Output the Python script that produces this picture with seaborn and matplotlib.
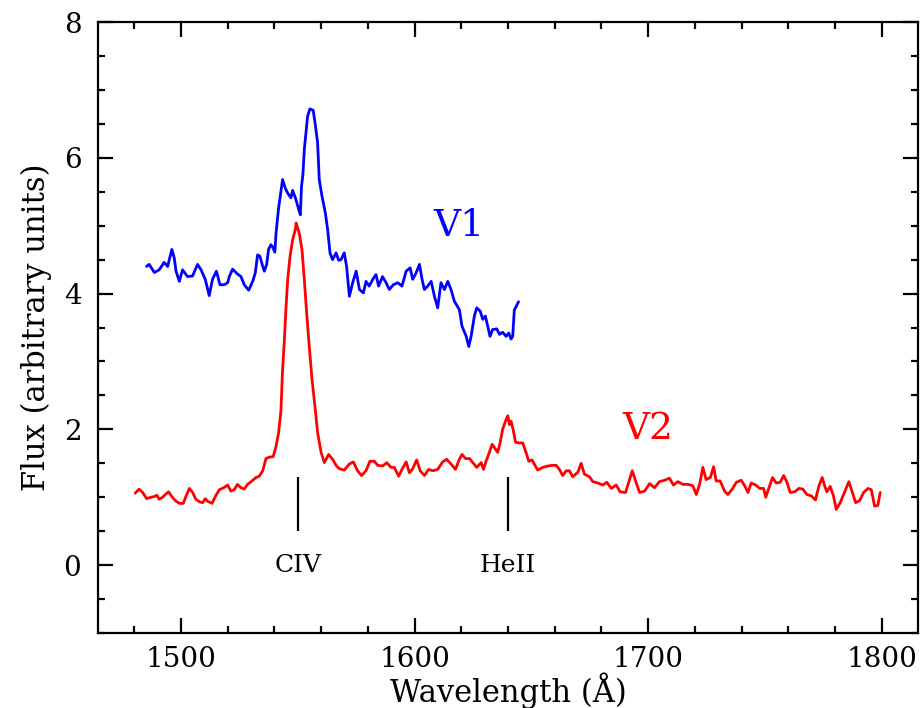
import numpy as np
import pandas as pd
import matplotlib
matplotlib.use("Agg")
import matplotlib.pyplot as plt
from matplotlib.ticker import MultipleLocator
import seaborn as sns

#### DATA

# V1 spectrum (blue)
v1_wave = [1485.3, 1486.4, 1488.6, 1490.7, 1492.8, 1494.3, 1496.1, 1497.1, 1497.9, 1499.3,
           1500.7, 1502.8, 1505.0, 1507.1, 1508.6, 1510.4, 1512.1, 1513.5, 1515.2, 1516.7,
           1518.5, 1520.0, 1520.7, 1522.1, 1523.8, 1525.7, 1527.1, 1529.0, 1530.7, 1531.8,
           1532.8, 1533.8, 1535.0, 1535.7, 1536.7, 1537.5, 1538.5, 1539.2, 1540.2, 1540.7,
           1541.8, 1542.5, 1543.5, 1544.7, 1545.7, 1547.1, 1547.8, 1549.0, 1550.4, 1551.1,
           1551.6, 1552.2, 1552.8, 1554.2, 1555.2, 1556.6, 1557.5, 1558.5, 1559.2, 1560.4,
           1561.8, 1562.8, 1563.8, 1564.9, 1566.4, 1567.5, 1568.5, 1569.9, 1570.9, 1572.1,
           1573.5, 1575.0, 1576.4, 1578.1, 1579.2, 1580.6, 1582.1, 1583.5, 1584.6, 1586.3,
           1587.8, 1589.2, 1590.9, 1592.8, 1594.6, 1596.4, 1598.1, 1599.2, 1600.6, 1602.1,
           1603.2, 1604.2, 1605.6, 1607.1, 1608.5, 1609.9, 1611.3, 1612.8, 1614.2, 1615.6,
           1617.0, 1619.2, 1620.3, 1622.1, 1623.2, 1624.2, 1625.6, 1626.6, 1628.1, 1629.2,
           1630.3, 1631.3, 1632.3, 1633.4, 1635.2, 1636.3, 1637.7, 1639.2, 1640.3, 1641.3,
           1642.0, 1642.7, 1643.5, 1644.5]
v1_flux = [4.40, 4.43, 4.31, 4.35, 4.46, 4.40, 4.65, 4.53, 4.33, 4.18,
           4.35, 4.25, 4.26, 4.43, 4.35, 4.21, 3.97, 4.21, 4.33, 4.13,
           4.13, 4.16, 4.25, 4.36, 4.30, 4.25, 4.13, 4.05, 4.18, 4.30,
           4.57, 4.55, 4.40, 4.33, 4.43, 4.65, 4.72, 4.69, 4.61, 4.89,
           5.26, 5.43, 5.68, 5.55, 5.48, 5.41, 5.52, 5.41, 5.24, 5.16,
           5.58, 5.75, 6.12, 6.61, 6.72, 6.70, 6.49, 6.22, 5.68, 5.43,
           5.19, 4.94, 4.60, 4.50, 4.60, 4.49, 4.50, 4.60, 4.40, 3.96,
           4.16, 4.33, 4.06, 4.01, 4.18, 4.11, 4.21, 4.28, 4.11, 4.25,
           4.16, 4.06, 4.13, 4.16, 4.11, 4.33, 4.38, 4.21, 4.30, 4.43,
           4.21, 4.06, 4.11, 4.18, 3.96, 3.79, 4.16, 4.06, 4.18, 4.06,
           3.89, 3.76, 3.52, 3.37, 3.22, 3.37, 3.67, 3.79, 3.74, 3.62,
           3.67, 3.52, 3.37, 3.47, 3.48, 3.40, 3.43, 3.37, 3.42, 3.33,
           3.37, 3.76, 3.81, 3.88]

# V2 spectrum (red)
v2_wave = [1480.4, 1482.1, 1483.6, 1485.3, 1487.2, 1488.6, 1489.7, 1490.7, 1492.1, 1493.3,
           1494.7, 1496.1, 1497.6, 1499.3, 1501.0, 1502.1, 1503.6, 1505.0, 1506.4, 1508.1,
           1509.3, 1510.4, 1511.4, 1513.3, 1514.7, 1516.4, 1518.3, 1520.0, 1521.4, 1522.8,
           1524.2, 1525.7, 1527.1, 1528.5, 1530.4, 1532.1, 1533.5, 1535.0, 1536.4, 1537.8,
           1539.5, 1540.7, 1541.8, 1542.8, 1543.5, 1544.2, 1545.0, 1545.7, 1546.7, 1547.8,
           1549.0, 1549.3, 1550.7, 1551.8, 1552.8, 1553.8, 1554.9, 1556.1, 1557.5, 1558.5,
           1560.0, 1561.4, 1563.2, 1564.9, 1566.6, 1567.8, 1569.9, 1572.1, 1573.8, 1575.6,
           1577.3, 1579.2, 1580.9, 1582.8, 1584.2, 1586.3, 1588.1, 1589.9, 1591.3, 1593.2,
           1594.6, 1596.4, 1597.8, 1599.2, 1600.9, 1602.4, 1604.2, 1606.0, 1607.8, 1609.9,
           1612.0, 1613.7, 1615.6, 1617.5, 1619.2, 1620.3, 1621.8, 1623.5, 1625.2, 1626.6,
           1628.5, 1629.5, 1630.6, 1632.0, 1633.2, 1634.2, 1635.6, 1636.6, 1637.7, 1638.9,
           1639.9, 1640.6, 1641.3, 1642.3, 1643.2, 1644.9, 1646.3, 1647.7, 1648.9, 1650.3,
           1651.7, 1652.7, 1654.9, 1657.0, 1659.1, 1660.6, 1662.0, 1663.4, 1664.9, 1666.3,
           1667.7, 1669.9, 1671.3, 1672.7, 1674.9, 1676.3, 1678.4, 1680.6, 1682.3, 1684.2,
           1686.3, 1688.0, 1690.3, 1692.0, 1693.2, 1694.6, 1696.3, 1698.4, 1700.6, 1702.7,
           1704.8, 1707.0, 1709.1, 1710.8, 1712.7, 1714.8, 1717.0, 1719.1, 1720.6, 1722.0,
           1723.4, 1724.8, 1726.6, 1728.0, 1729.1, 1730.8, 1732.7, 1734.1, 1736.0, 1737.7,
           1739.8, 1741.3, 1742.7, 1744.1, 1746.0, 1747.7, 1749.4, 1750.3, 1751.7, 1753.2,
           1754.8, 1756.5, 1758.0, 1759.4, 1760.8, 1762.7, 1764.5, 1766.2, 1767.9, 1769.8,
           1771.6, 1773.1, 1774.5, 1775.5, 1776.5, 1777.9, 1779.3, 1780.5, 1782.2, 1784.0,
           1785.9, 1787.3, 1788.8, 1790.5, 1792.2, 1794.1, 1795.5, 1796.9, 1798.3, 1799.3]
v2_flux = [1.06, 1.12, 1.07, 0.98, 1.00, 1.01, 1.03, 0.97, 1.00, 1.04,
           1.08, 1.01, 0.95, 0.91, 0.91, 1.01, 1.13, 1.07, 0.97, 0.93,
           0.92, 0.98, 0.94, 0.91, 1.01, 1.11, 1.14, 1.18, 1.09, 1.11,
           1.19, 1.14, 1.12, 1.19, 1.24, 1.29, 1.31, 1.39, 1.57, 1.59,
           1.60, 1.75, 1.95, 2.27, 2.88, 3.27, 3.81, 4.21, 4.55, 4.79,
           4.95, 5.04, 4.88, 4.65, 4.21, 3.72, 3.23, 2.74, 2.29, 1.95,
           1.66, 1.51, 1.63, 1.56, 1.46, 1.42, 1.40, 1.49, 1.52, 1.39,
           1.32, 1.39, 1.53, 1.53, 1.47, 1.46, 1.51, 1.44, 1.44, 1.31,
           1.41, 1.52, 1.36, 1.42, 1.55, 1.39, 1.32, 1.41, 1.39, 1.41,
           1.52, 1.56, 1.49, 1.41, 1.56, 1.63, 1.57, 1.57, 1.50, 1.44,
           1.51, 1.41, 1.53, 1.66, 1.78, 1.73, 1.66, 1.80, 2.00, 2.12,
           2.20, 2.07, 2.12, 1.98, 1.81, 1.80, 1.80, 1.66, 1.53, 1.55,
           1.46, 1.40, 1.44, 1.46, 1.47, 1.47, 1.41, 1.32, 1.39, 1.39,
           1.30, 1.37, 1.50, 1.34, 1.30, 1.23, 1.21, 1.18, 1.22, 1.13,
           1.18, 1.08, 1.07, 1.26, 1.39, 1.24, 1.07, 1.09, 1.20, 1.14,
           1.23, 1.25, 1.28, 1.18, 1.23, 1.19, 1.19, 1.17, 1.04, 1.19,
           1.44, 1.26, 1.29, 1.45, 1.24, 1.24, 1.09, 1.04, 1.12, 1.22,
           1.25, 1.17, 1.07, 1.21, 1.18, 1.13, 1.13, 1.00, 1.14, 1.29,
           1.21, 1.22, 1.32, 1.22, 1.07, 1.08, 1.13, 1.12, 1.04, 1.02,
           0.96, 1.17, 1.29, 1.17, 1.08, 1.16, 1.02, 0.82, 0.92, 1.07,
           1.23, 1.08, 0.92, 0.95, 1.07, 1.13, 1.11, 0.87, 0.88, 1.07]

# emission line markers
line_names = ["CIV", "HeII"]
line_waves = [1550, 1640]
tick_bottom = 0.5
tick_top = 1.3

v1 = pd.DataFrame({"Wavelength": v1_wave, "Flux": v1_flux})
v2 = pd.DataFrame({"Wavelength": v2_wave, "Flux": v2_flux})

#### PLOT

sns.set_style("ticks")
plt.rcParams["font.family"] = ["DejaVu Serif"]
plt.rcParams.update({"text.color": "black", "axes.labelcolor": "black",
                     "axes.edgecolor": "black", "xtick.color": "black",
                     "ytick.color": "black"})

fig = plt.figure(figsize=(9.22, 7.08), dpi=100)
ax = fig.add_axes([0.1063, 0.1059, 0.8894, 0.8630])

sns.lineplot(data=v1, x="Wavelength", y="Flux", color="#0000ff", linewidth=2.0,
             sort=False, estimator=None, ax=ax)
sns.lineplot(data=v2, x="Wavelength", y="Flux", color="#ff0000", linewidth=2.0,
             sort=False, estimator=None, ax=ax)

# line identifications
ax.vlines(line_waves, tick_bottom, tick_top, color="black", linewidth=1.6)
for name, w in zip(line_names, line_waves):
    ax.text(w, 0.0, name, ha="center", va="center", fontsize=18)

ax.text(1619, 5.0, "V1", color="#0000ff", ha="center", va="center", fontsize=27)
ax.text(1700, 2.0, "V2", color="#ff0000", ha="center", va="center", fontsize=27)

ax.set_xlim(1464.5, 1815.5)
ax.set_ylim(-1, 8)
ax.xaxis.set_major_locator(MultipleLocator(100))
ax.xaxis.set_minor_locator(MultipleLocator(20))
ax.yaxis.set_major_locator(MultipleLocator(2))
ax.yaxis.set_minor_locator(MultipleLocator(0.5))

ax.tick_params(which="both", direction="in", top=True, right=True, width=1.6)
ax.tick_params(which="major", length=11, labelsize=20)
ax.tick_params(axis="x", which="major", pad=9)
ax.tick_params(axis="y", which="major", pad=12)
ax.tick_params(which="minor", length=5)
for sp in ax.spines.values():
    sp.set_linewidth(1.6)

ax.set_xlabel("Wavelength (Å)", fontsize=22, labelpad=0)
ax.set_ylabel("Flux (arbitrary units)", fontsize=22, labelpad=8)

fig.savefig("out.png", dpi=100)
